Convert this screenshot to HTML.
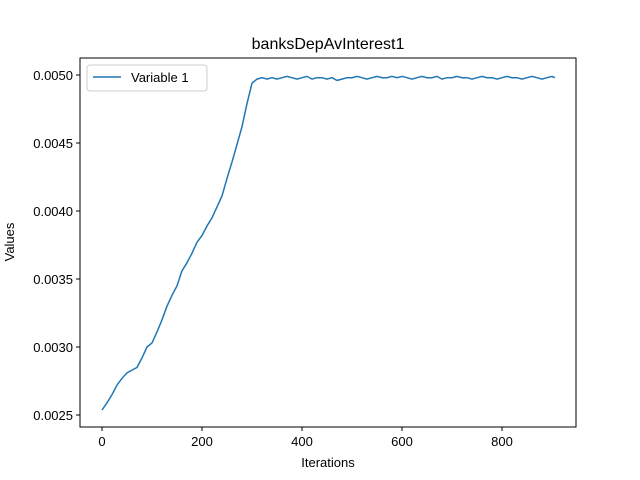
<!DOCTYPE html>
<html><head><meta charset="utf-8"><style>
body{margin:0;background:#fff;}
svg{display:block;font-family:"Liberation Sans","DejaVu Sans",sans-serif;}
</style></head><body>
<svg id="chart" width="640" height="480">
<rect width="640" height="480" fill="#fff"/>
<text x="328" y="49" font-size="16" text-anchor="middle">banksDepAvInterest1</text>
<g id="ticks"></g>
<path id="series" fill="none" stroke="#1f77b4" stroke-width="1.5"/>
<rect x="80" y="58" width="496" height="369" fill="none" stroke="#000" stroke-width="1"/>
<text x="328" y="467" font-size="13" text-anchor="middle">Iterations</text>
<text x="14" y="242" font-size="13" text-anchor="middle" transform="rotate(-90 14 242)">Values</text>
<g>
<rect x="87" y="65" width="120" height="26" rx="3" fill="#fff" stroke="#ccc"/>
<line x1="93" y1="77" x2="121" y2="77" stroke="#1f77b4" stroke-width="1.5"/>
<text x="131" y="82" font-size="13">Variable 1</text>
</g>
</svg>
<script>
const iterations=[0,10,20,30,40,50,60,70,80,90,100,110,120,130,140,150,160,170,180,190,200,210,220,230,240,250,260,270,280,290,300,310,320,330,340,350,360,370,380,390,400,410,420,430,440,450,460,470,480,490,500,510,520,530,540,550,560,570,580,590,600,610,620,630,640,650,660,670,680,690,700,710,720,730,740,750,760,770,780,790,800,810,820,830,840,850,860,870,880,890,900,906];
const values=[0.002537,0.00259,0.00265,0.00272,0.00277,0.00281,0.00283,0.00285,0.00292,0.00300,0.00303,0.00311,0.00320,0.00330,0.00338,0.00345,0.00356,0.00362,0.00369,0.00377,0.00382,0.00389,0.00395,0.00403,0.00411,0.00424,0.00436,0.00449,0.00462,0.00479,0.00494,0.00497,0.00498,0.00497,0.00498,0.00497,0.00498,0.00499,0.00498,0.00497,0.00498,0.00499,0.00497,0.00498,0.00498,0.00497,0.00498,0.00496,0.00497,0.00498,0.00498,0.00499,0.00498,0.00497,0.00498,0.00499,0.00498,0.00498,0.00499,0.00498,0.00499,0.00498,0.00497,0.00498,0.00499,0.00498,0.00498,0.00499,0.00497,0.00498,0.00498,0.00499,0.00498,0.00498,0.00497,0.00498,0.00499,0.00498,0.00498,0.00497,0.00498,0.00499,0.00498,0.00498,0.00497,0.00498,0.00499,0.00498,0.00497,0.00498,0.00499,0.00498];
const xTicks=[0,200,400,600,800];
const yTicks=[0.0025,0.0030,0.0035,0.0040,0.0045,0.0050];
const yTickLabels=["0.0025","0.0030","0.0035","0.0040","0.0045","0.0050"];
const sx=v=>102+v*0.5;
const sy=v=>415-(v-0.0025)/0.0025*340;
const ns="http://www.w3.org/2000/svg";
const g=document.getElementById('ticks');
xTicks.forEach(t=>{
 const l=document.createElementNS(ns,'line');
 l.setAttribute('x1',sx(t));l.setAttribute('x2',sx(t));l.setAttribute('y1',427);l.setAttribute('y2',431);l.setAttribute('stroke','#000');
 
 
 g.appendChild(l);
 const tx=document.createElementNS(ns,'text');
 tx.setAttribute('x',sx(t));tx.setAttribute('y',446);tx.setAttribute('font-size','13');tx.setAttribute('text-anchor','middle');
 tx.textContent=t;
 
 
 g.appendChild(tx);
});
yTicks.forEach((t,i)=>{
 const l=document.createElementNS(ns,'line');
 l.setAttribute('x1',76);l.setAttribute('x2',80);l.setAttribute('y1',sy(t));l.setAttribute('y2',sy(t));l.setAttribute('stroke','#000');
 
 
 g.appendChild(l);
 const tx=document.createElementNS(ns,'text');
 tx.setAttribute('x',73);tx.setAttribute('y',sy(t)+5);tx.setAttribute('font-size','13');tx.setAttribute('text-anchor','end');
 tx.textContent=yTickLabels[i];
 
 
 g.appendChild(tx);
});
document.getElementById('series').setAttribute('d',iterations.map((x,i)=>(i?'L':'M')+sx(x).toFixed(1)+','+sy(values[i]).toFixed(1)).join(' '));
</script>
</body></html>
